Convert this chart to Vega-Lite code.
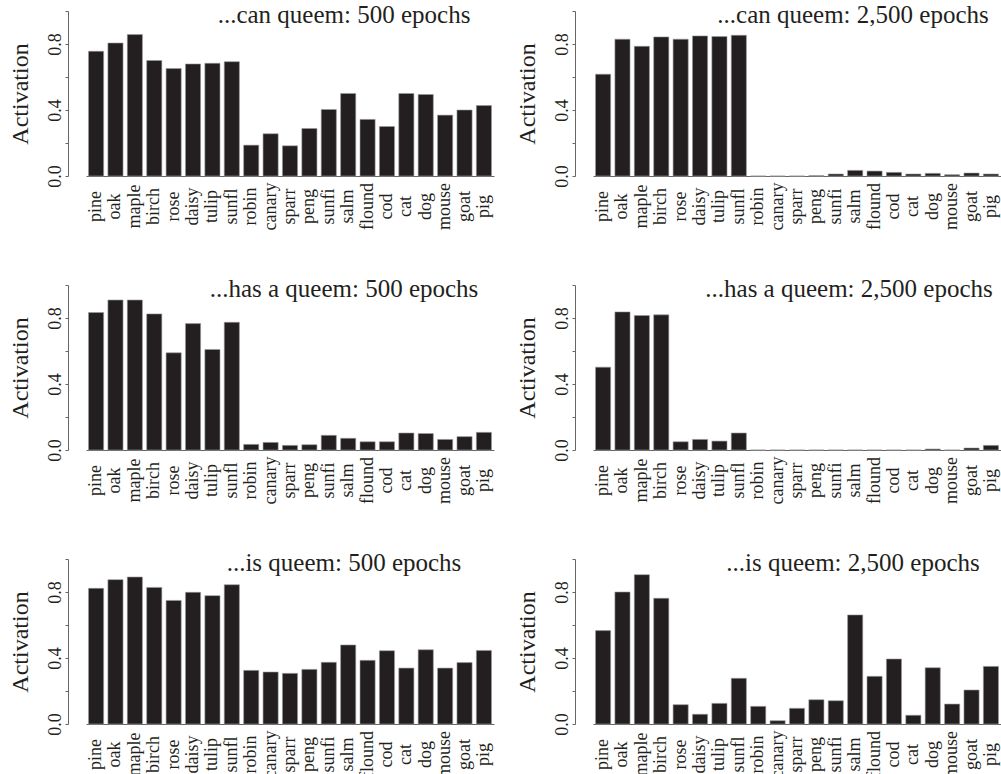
{
  "$schema": "https://vega.github.io/schema/vega-lite/v6.json",
  "padding": {"left": 8, "top": 2, "right": 0, "bottom": 0},
  "background": "white",
  "config": {
    "font": "Liberation Serif, Times New Roman, DejaVu Serif, serif",
    "view": {"stroke": null},
    "title": {"fontSize": 25, "fontWeight": "normal", "color": "#231f20", "font": "Liberation Serif, Times New Roman, DejaVu Serif, serif", "anchor": "middle", "offset": -17, "baseline": "alphabetic"},
    "axisX": {"title": null, "labelAngle": 270, "labelAlign": "center", "labelBaseline": "middle", "ticks": false, "labelPadding": 30, "labelFontSize": 18, "labelColor": "#231f20", "domainColor": "#666666", "domainWidth": 1, "labelOverlap": false, "labelBound": false, "grid": false, "labelFont": "Liberation Serif, Times New Roman, DejaVu Serif, serif"},
    "axisY": {"values": [0, 0.2, 0.4, 0.6, 0.8, 1], "labelExpr": "datum.value == 0 || datum.value == 0.4 || datum.value == 0.8 ? format(datum.value, '.1f') : ''", "offset": 18, "tickSize": 3, "tickColor": "#666666", "domainColor": "#666666", "labelAngle": 270, "labelAlign": "center", "labelBaseline": "bottom", "labelPadding": 1, "labelFontSize": 18, "labelColor": "#231f20", "titleFontSize": 24, "titleFontWeight": "normal", "titleColor": "#231f20", "titlePadding": 14, "grid": false, "labelOverlap": false, "labelFont": "Liberation Serif, Times New Roman, DejaVu Serif, serif", "titleFont": "Liberation Serif, Times New Roman, DejaVu Serif, serif"}
  },
  "datasets": {
    "acts": [
      {"panel": "can500", "item": "pine", "value": 0.756},
      {"panel": "can500", "item": "oak", "value": 0.806},
      {"panel": "can500", "item": "maple", "value": 0.857},
      {"panel": "can500", "item": "birch", "value": 0.70},
      {"panel": "can500", "item": "rose", "value": 0.651},
      {"panel": "can500", "item": "daisy", "value": 0.679},
      {"panel": "can500", "item": "tulip", "value": 0.683},
      {"panel": "can500", "item": "sunfl", "value": 0.693},
      {"panel": "can500", "item": "robin", "value": 0.187},
      {"panel": "can500", "item": "canary", "value": 0.256},
      {"panel": "can500", "item": "sparr", "value": 0.183},
      {"panel": "can500", "item": "peng", "value": 0.288},
      {"panel": "can500", "item": "sunfi", "value": 0.403},
      {"panel": "can500", "item": "salm", "value": 0.50},
      {"panel": "can500", "item": "flound", "value": 0.343},
      {"panel": "can500", "item": "cod", "value": 0.30},
      {"panel": "can500", "item": "cat", "value": 0.50},
      {"panel": "can500", "item": "dog", "value": 0.494},
      {"panel": "can500", "item": "mouse", "value": 0.369},
      {"panel": "can500", "item": "goat", "value": 0.40},
      {"panel": "can500", "item": "pig", "value": 0.427},

      {"panel": "can2500", "item": "pine", "value": 0.617},
      {"panel": "can2500", "item": "oak", "value": 0.829},
      {"panel": "can2500", "item": "maple", "value": 0.786},
      {"panel": "can2500", "item": "birch", "value": 0.843},
      {"panel": "can2500", "item": "rose", "value": 0.829},
      {"panel": "can2500", "item": "daisy", "value": 0.849},
      {"panel": "can2500", "item": "tulip", "value": 0.845},
      {"panel": "can2500", "item": "sunfl", "value": 0.853},
      {"panel": "can2500", "item": "robin", "value": 0.0},
      {"panel": "can2500", "item": "canary", "value": 0.0},
      {"panel": "can2500", "item": "sparr", "value": 0.0},
      {"panel": "can2500", "item": "peng", "value": 0.002},
      {"panel": "can2500", "item": "sunfi", "value": 0.012},
      {"panel": "can2500", "item": "salm", "value": 0.034},
      {"panel": "can2500", "item": "flound", "value": 0.03},
      {"panel": "can2500", "item": "cod", "value": 0.022},
      {"panel": "can2500", "item": "cat", "value": 0.012},
      {"panel": "can2500", "item": "dog", "value": 0.016},
      {"panel": "can2500", "item": "mouse", "value": 0.008},
      {"panel": "can2500", "item": "goat", "value": 0.018},
      {"panel": "can2500", "item": "pig", "value": 0.012},

      {"panel": "has500", "item": "pine", "value": 0.833},
      {"panel": "has500", "item": "oak", "value": 0.909},
      {"panel": "has500", "item": "maple", "value": 0.909},
      {"panel": "has500", "item": "birch", "value": 0.825},
      {"panel": "has500", "item": "rose", "value": 0.589},
      {"panel": "has500", "item": "daisy", "value": 0.766},
      {"panel": "has500", "item": "tulip", "value": 0.609},
      {"panel": "has500", "item": "sunfl", "value": 0.774},
      {"panel": "has500", "item": "robin", "value": 0.034},
      {"panel": "has500", "item": "canary", "value": 0.046},
      {"panel": "has500", "item": "sparr", "value": 0.028},
      {"panel": "has500", "item": "peng", "value": 0.032},
      {"panel": "has500", "item": "sunfi", "value": 0.089},
      {"panel": "has500", "item": "salm", "value": 0.071},
      {"panel": "has500", "item": "flound", "value": 0.05},
      {"panel": "has500", "item": "cod", "value": 0.05},
      {"panel": "has500", "item": "cat", "value": 0.103},
      {"panel": "has500", "item": "dog", "value": 0.10},
      {"panel": "has500", "item": "mouse", "value": 0.064},
      {"panel": "has500", "item": "goat", "value": 0.081},
      {"panel": "has500", "item": "pig", "value": 0.107},

      {"panel": "has2500", "item": "pine", "value": 0.502},
      {"panel": "has2500", "item": "oak", "value": 0.837},
      {"panel": "has2500", "item": "maple", "value": 0.815},
      {"panel": "has2500", "item": "birch", "value": 0.819},
      {"panel": "has2500", "item": "rose", "value": 0.05},
      {"panel": "has2500", "item": "daisy", "value": 0.064},
      {"panel": "has2500", "item": "tulip", "value": 0.054},
      {"panel": "has2500", "item": "sunfl", "value": 0.103},
      {"panel": "has2500", "item": "robin", "value": 0.0},
      {"panel": "has2500", "item": "canary", "value": 0.0},
      {"panel": "has2500", "item": "sparr", "value": 0.0},
      {"panel": "has2500", "item": "peng", "value": 0.0},
      {"panel": "has2500", "item": "sunfi", "value": 0.0},
      {"panel": "has2500", "item": "salm", "value": 0.0},
      {"panel": "has2500", "item": "flound", "value": 0.0},
      {"panel": "has2500", "item": "cod", "value": 0.0},
      {"panel": "has2500", "item": "cat", "value": 0.0},
      {"panel": "has2500", "item": "dog", "value": 0.006},
      {"panel": "has2500", "item": "mouse", "value": 0.0},
      {"panel": "has2500", "item": "goat", "value": 0.012},
      {"panel": "has2500", "item": "pig", "value": 0.028},

      {"panel": "is500", "item": "pine", "value": 0.822},
      {"panel": "is500", "item": "oak", "value": 0.875},
      {"panel": "is500", "item": "maple", "value": 0.891},
      {"panel": "is500", "item": "birch", "value": 0.828},
      {"panel": "is500", "item": "rose", "value": 0.749},
      {"panel": "is500", "item": "daisy", "value": 0.798},
      {"panel": "is500", "item": "tulip", "value": 0.778},
      {"panel": "is500", "item": "sunfl", "value": 0.844},
      {"panel": "is500", "item": "robin", "value": 0.325},
      {"panel": "is500", "item": "canary", "value": 0.315},
      {"panel": "is500", "item": "sparr", "value": 0.307},
      {"panel": "is500", "item": "peng", "value": 0.331},
      {"panel": "is500", "item": "sunfi", "value": 0.374},
      {"panel": "is500", "item": "salm", "value": 0.479},
      {"panel": "is500", "item": "flound", "value": 0.386},
      {"panel": "is500", "item": "cod", "value": 0.444},
      {"panel": "is500", "item": "cat", "value": 0.339},
      {"panel": "is500", "item": "dog", "value": 0.45},
      {"panel": "is500", "item": "mouse", "value": 0.339},
      {"panel": "is500", "item": "goat", "value": 0.372},
      {"panel": "is500", "item": "pig", "value": 0.446},

      {"panel": "is2500", "item": "pine", "value": 0.566},
      {"panel": "is2500", "item": "oak", "value": 0.80},
      {"panel": "is2500", "item": "maple", "value": 0.905},
      {"panel": "is2500", "item": "birch", "value": 0.762},
      {"panel": "is2500", "item": "rose", "value": 0.117},
      {"panel": "is2500", "item": "daisy", "value": 0.059},
      {"panel": "is2500", "item": "tulip", "value": 0.125},
      {"panel": "is2500", "item": "sunfl", "value": 0.277},
      {"panel": "is2500", "item": "robin", "value": 0.107},
      {"panel": "is2500", "item": "canary", "value": 0.02},
      {"panel": "is2500", "item": "sparr", "value": 0.095},
      {"panel": "is2500", "item": "peng", "value": 0.147},
      {"panel": "is2500", "item": "sunfi", "value": 0.141},
      {"panel": "is2500", "item": "salm", "value": 0.661},
      {"panel": "is2500", "item": "flound", "value": 0.289},
      {"panel": "is2500", "item": "cod", "value": 0.394},
      {"panel": "is2500", "item": "cat", "value": 0.053},
      {"panel": "is2500", "item": "dog", "value": 0.341},
      {"panel": "is2500", "item": "mouse", "value": 0.121},
      {"panel": "is2500", "item": "goat", "value": 0.206},
      {"panel": "is2500", "item": "pig", "value": 0.349}
    ]
  },
  "columns": 2,
  "bounds": "flush",
  "spacing": {"row": 109, "column": 99},
  "concat": [
    {
      "width": 408, "height": 165,
      "data": {"name": "acts"},
      "transform": [{"filter": "datum.panel == 'can500'"}],
      "title": {"text": "...can queem: 500 epochs", "dx": 54},
      "mark": {"type": "bar", "fill": "#231f20", "stroke": "#9a9a9a", "strokeWidth": 0.6},
      "encoding": {
        "x": {"field": "item", "type": "nominal", "sort": ["pine","oak","maple","birch","rose","daisy","tulip","sunfl","robin","canary","sparr","peng","sunfi","salm","flound","cod","cat","dog","mouse","goat","pig"], "scale": {"paddingInner": 0.22, "paddingOuter": 0.13}, "axis": {"title": null}},
        "y": {"field": "value", "type": "quantitative", "scale": {"domain": [0, 1], "nice": false}, "axis": {"title": "Activation"}}
      }
    },
    {
      "width": 408, "height": 165,
      "data": {"name": "acts"},
      "transform": [{"filter": "datum.panel == 'can2500'"}],
      "title": {"text": "...can queem: 2,500 epochs", "dx": 56},
      "mark": {"type": "bar", "fill": "#231f20", "stroke": "#9a9a9a", "strokeWidth": 0.6},
      "encoding": {
        "x": {"field": "item", "type": "nominal", "sort": ["pine","oak","maple","birch","rose","daisy","tulip","sunfl","robin","canary","sparr","peng","sunfi","salm","flound","cod","cat","dog","mouse","goat","pig"], "scale": {"paddingInner": 0.22, "paddingOuter": 0.13}, "axis": {"title": null}},
        "y": {"field": "value", "type": "quantitative", "scale": {"domain": [0, 1], "nice": false}, "axis": {"title": "Activation"}}
      }
    },
    {
      "width": 408, "height": 165,
      "data": {"name": "acts"},
      "transform": [{"filter": "datum.panel == 'has500'"}],
      "title": {"text": "...has a queem: 500 epochs", "dx": 54},
      "mark": {"type": "bar", "fill": "#231f20", "stroke": "#9a9a9a", "strokeWidth": 0.6},
      "encoding": {
        "x": {"field": "item", "type": "nominal", "sort": ["pine","oak","maple","birch","rose","daisy","tulip","sunfl","robin","canary","sparr","peng","sunfi","salm","flound","cod","cat","dog","mouse","goat","pig"], "scale": {"paddingInner": 0.22, "paddingOuter": 0.13}, "axis": {"title": null}},
        "y": {"field": "value", "type": "quantitative", "scale": {"domain": [0, 1], "nice": false}, "axis": {"title": "Activation"}}
      }
    },
    {
      "width": 408, "height": 165,
      "data": {"name": "acts"},
      "transform": [{"filter": "datum.panel == 'has2500'"}],
      "title": {"text": "...has a queem: 2,500 epochs", "dx": 52},
      "mark": {"type": "bar", "fill": "#231f20", "stroke": "#9a9a9a", "strokeWidth": 0.6},
      "encoding": {
        "x": {"field": "item", "type": "nominal", "sort": ["pine","oak","maple","birch","rose","daisy","tulip","sunfl","robin","canary","sparr","peng","sunfi","salm","flound","cod","cat","dog","mouse","goat","pig"], "scale": {"paddingInner": 0.22, "paddingOuter": 0.13}, "axis": {"title": null}},
        "y": {"field": "value", "type": "quantitative", "scale": {"domain": [0, 1], "nice": false}, "axis": {"title": "Activation"}}
      }
    },
    {
      "width": 408, "height": 165,
      "data": {"name": "acts"},
      "transform": [{"filter": "datum.panel == 'is500'"}],
      "title": {"text": "...is queem: 500 epochs", "dx": 54},
      "mark": {"type": "bar", "fill": "#231f20", "stroke": "#9a9a9a", "strokeWidth": 0.6},
      "encoding": {
        "x": {"field": "item", "type": "nominal", "sort": ["pine","oak","maple","birch","rose","daisy","tulip","sunfl","robin","canary","sparr","peng","sunfi","salm","flound","cod","cat","dog","mouse","goat","pig"], "scale": {"paddingInner": 0.22, "paddingOuter": 0.13}, "axis": {"title": null}},
        "y": {"field": "value", "type": "quantitative", "scale": {"domain": [0, 1], "nice": false}, "axis": {"title": "Activation"}}
      }
    },
    {
      "width": 408, "height": 165,
      "data": {"name": "acts"},
      "transform": [{"filter": "datum.panel == 'is2500'"}],
      "title": {"text": "...is queem: 2,500 epochs", "dx": 56},
      "mark": {"type": "bar", "fill": "#231f20", "stroke": "#9a9a9a", "strokeWidth": 0.6},
      "encoding": {
        "x": {"field": "item", "type": "nominal", "sort": ["pine","oak","maple","birch","rose","daisy","tulip","sunfl","robin","canary","sparr","peng","sunfi","salm","flound","cod","cat","dog","mouse","goat","pig"], "scale": {"paddingInner": 0.22, "paddingOuter": 0.13}, "axis": {"title": null}},
        "y": {"field": "value", "type": "quantitative", "scale": {"domain": [0, 1], "nice": false}, "axis": {"title": "Activation"}}
      }
    }
  ]
}
